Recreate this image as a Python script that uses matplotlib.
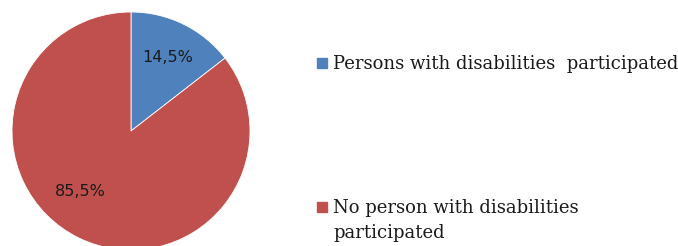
import matplotlib
matplotlib.use("Agg")
import matplotlib.pyplot as plt
import numpy as np

categories = ["Persons with disabilities  participated",
              "No person with disabilities\nparticipated"]
values = [14.5, 85.5]
labels = ["14,5%", "85,5%"]
colors = ["#4F81BD", "#C0504D"]

W, H = 678, 246
fig = plt.figure(figsize=(W / 100, H / 100), dpi=100)

# pie axes in pixel coordinates (left, top, size)
cx, cy, r = 131, 131, 119
ax = fig.add_axes([(cx - r) / W, (H - cy - r) / H, 2 * r / W, 2 * r / H])
wedges, _ = ax.pie(values, colors=colors, startangle=90, counterclock=False,
                   wedgeprops=dict(linewidth=0.6, edgecolor="white"))
ax.set_xlim(-1, 1)
ax.set_ylim(-1, 1)
ax.set_aspect("equal")
ax.axis("off")

# data labels
label_pos = [(0.31, 0.62), (-0.43, -0.51)]
for (x, y), t in zip(label_pos, labels):
    ax.text(x, y, t, ha="center", va="center", fontsize=11.5,
            family="DejaVu Sans", color="#1a1a1a")

# legend
legend_y = [63, 207]
line_gap = 25
for yy, c, cat in zip(legend_y, colors, categories):
    fig.patches.append(plt.Rectangle((317 / W, (H - yy - 5) / H), 10 / W, 10 / H,
                                     transform=fig.transFigure, color=c))
    for i, line in enumerate(cat.split("\n")):
        fig.text(333 / W, (H - yy - 6 - i * line_gap) / H, line, ha="left",
                 va="baseline", fontsize=13, family="DejaVu Serif", color="#1a1a1a")

fig.savefig("out.png", dpi=100)
